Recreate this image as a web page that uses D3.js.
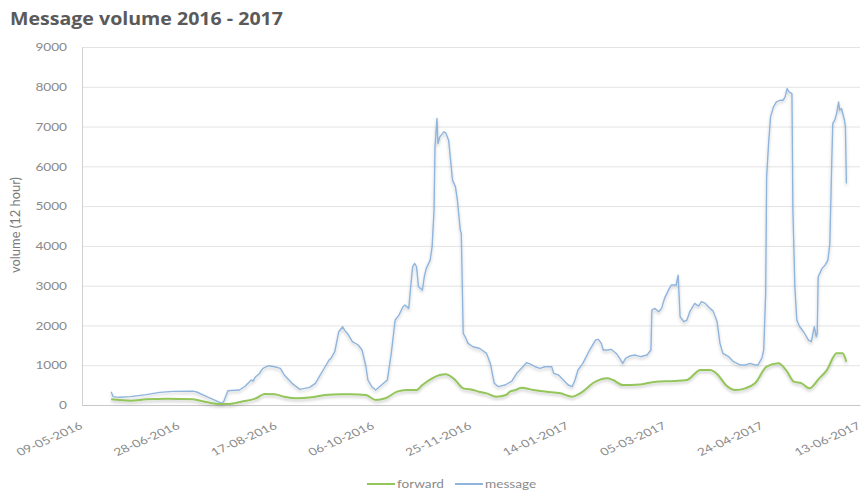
<!DOCTYPE html>
<html>
<head>
<meta charset="utf-8">
<script src="https://cdn.jsdelivr.net/npm/d3@7"></script>
<style>
  html, body { margin: 0; padding: 0; background: #ffffff; }
  svg { display: block; }
  text { font-family: Lato, "Open Sans", sans-serif; }
</style>
</head>
<body>
<svg id="chart" width="867" height="493"></svg>
<script>
// ---------- data ----------
const chartTitle = "Message volume 2016 - 2017";
const yAxisTitle = "volume (12 hour)";
const seriesNames = ["forward", "message"];
const yTickValues = [0, 1000, 2000, 3000, 4000, 5000, 6000, 7000, 8000, 9000];
const xTickLabels = ["09-05-2016", "28-06-2016", "17-08-2016", "06-10-2016", "25-11-2016",
                     "14-01-2017", "05-03-2017", "24-04-2017", "13-06-2017"];

const messageDates = [
  "2016-05-24","2016-05-25","2016-05-28","2016-06-03","2016-06-11","2016-06-18","2016-06-25",
  "2016-07-05","2016-07-07","2016-07-13","2016-07-20","2016-07-21","2016-07-23","2016-07-29",
  "2016-08-01","2016-08-04","2016-08-05","2016-08-06","2016-08-08","2016-08-10","2016-08-13",
  "2016-08-16","2016-08-19","2016-08-21","2016-08-25","2016-08-29","2016-09-03","2016-09-06",
  "2016-09-08","2016-09-11","2016-09-13","2016-09-14","2016-09-16","2016-09-18","2016-09-20",
  "2016-09-21","2016-09-23","2016-09-25","2016-09-28","2016-09-30","2016-10-02","2016-10-03",
  "2016-10-05","2016-10-07","2016-10-10","2016-10-13","2016-10-15","2016-10-17","2016-10-19",
  "2016-10-21","2016-10-22","2016-10-24","2016-10-25","2016-10-26","2016-10-27","2016-10-28",
  "2016-10-29","2016-10-31","2016-11-01","2016-11-02","2016-11-04","2016-11-05","2016-11-06",
  "2016-11-06 12","2016-11-07 12","2016-11-08","2016-11-09","2016-11-11","2016-11-12",
  "2016-11-13 12","2016-11-14 12","2016-11-15 12","2016-11-17","2016-11-18","2016-11-19 12",
  "2016-11-20","2016-11-21","2016-11-22","2016-11-23 12","2016-11-26","2016-11-29 12",
  "2016-12-03","2016-12-05","2016-12-07","2016-12-09","2016-12-12 12","2016-12-16",
  "2016-12-18 12","2016-12-21","2016-12-23 12","2016-12-25","2016-12-28","2016-12-30 12",
  "2017-01-02","2017-01-05 12","2017-01-06 12","2017-01-09","2017-01-11 12","2017-01-14",
  "2017-01-16","2017-01-17 12","2017-01-19","2017-01-21 12","2017-01-25","2017-01-28",
  "2017-01-29 12","2017-01-31","2017-02-01","2017-02-03 12","2017-02-05","2017-02-08",
  "2017-02-09 12","2017-02-11","2017-02-12 12","2017-02-14 12","2017-02-17 12","2017-02-20",
  "2017-02-23 12","2017-02-25 12","2017-02-26","2017-02-27 12","2017-03-01 12","2017-03-03",
  "2017-03-04 12","2017-03-06 12","2017-03-08","2017-03-10 12","2017-03-11 12","2017-03-12 12",
  "2017-03-14 12","2017-03-16","2017-03-17 12","2017-03-20","2017-03-22","2017-03-23 12",
  "2017-03-25 12","2017-03-27","2017-03-29 12","2017-03-31 12","2017-04-02","2017-04-03 12",
  "2017-04-06 12","2017-04-09","2017-04-12 12","2017-04-15","2017-04-17 12","2017-04-20",
  "2017-04-21 12","2017-04-23 12","2017-04-24 12","2017-04-25 12","2017-04-26","2017-04-27",
  "2017-04-28","2017-04-29 12","2017-05-01","2017-05-03","2017-05-04 12","2017-05-05 12",
  "2017-05-06 12","2017-05-07 12","2017-05-09","2017-05-09 12","2017-05-10 12","2017-05-11 12",
  "2017-05-13","2017-05-15","2017-05-17 12","2017-05-19","2017-05-20 12","2017-05-21 12",
  "2017-05-22","2017-05-22 12","2017-05-24 12","2017-05-26","2017-05-27 12","2017-05-28 12",
  "2017-05-29 12","2017-05-30","2017-05-31","2017-06-01","2017-06-02","2017-06-02 12",
  "2017-06-03 12","2017-06-05","2017-06-05 12","2017-06-06"
];
const messageValues = [
  334,210,193,210,260,318,343,
  350,327,193,42,100,360,377,
  477,628,600,696,779,922,988,
  962,922,754,545,394,444,545,
  712,962,1130,1172,1350,1842,1968,
  1884,1759,1591,1508,1382,962,628,
  461,377,503,628,1298,2136,2261,
  2470,2513,2429,2972,3475,3560,3475,
  2972,2889,3224,3434,3643,3977,4899,
  6490,7203,6575,6742,6868,6842,
  6658,6156,5653,5485,5151,4397,
  4314,1801,1716,1550,1465,1420,
  1298,1030,545,461,503,600,
  796,922,1064,1040,962,922,
  962,962,796,754,628,503,
  461,628,879,1047,1382,1633,
  1650,1550,1382,1382,1400,1281,
  1172,1047,1172,1231,1256,1214,
  1256,1382,2387,2429,2345,2429,
  2680,2889,3015,3015,3266,2219,
  2094,2136,2345,2555,2487,2597,
  2555,2470,2360,2100,1550,1298,
  1214,1088,1005,1005,1047,1005,
  1005,1172,1382,2806,5736,6575,
  7244,7495,7621,7663,7663,7746,
  7955,7872,7830,4899,2972,2136,
  1968,1842,1633,1591,1968,1716,
  1801,3224,3434,3517,3643,4063,
  6156,7078,7160,7328,7621,7412,
  7454,7160,6993,5570
];

const forwardDates = [
  "2016-05-24","2016-06-03","2016-06-11","2016-06-22","2016-07-05","2016-07-11","2016-07-18",
  "2016-07-23","2016-07-30","2016-08-06","2016-08-11","2016-08-16","2016-08-21","2016-08-28",
  "2016-09-04","2016-09-11","2016-09-19","2016-09-24","2016-10-02","2016-10-07","2016-10-12",
  "2016-10-18","2016-10-23","2016-10-28","2016-10-31","2016-11-05","2016-11-09","2016-11-12",
  "2016-11-16","2016-11-21","2016-11-26","2016-11-29","2016-12-03","2016-12-08","2016-12-13",
  "2016-12-15","2016-12-18","2016-12-21","2016-12-23","2016-12-27","2017-01-03","2017-01-10",
  "2017-01-16","2017-01-20","2017-01-28","2017-02-03","2017-02-06","2017-02-11","2017-02-20",
  "2017-02-28","2017-03-10","2017-03-16","2017-03-23","2017-03-28","2017-03-30","2017-04-01",
  "2017-04-05","2017-04-10","2017-04-15","2017-04-20","2017-04-26","2017-05-02","2017-05-06",
  "2017-05-10","2017-05-14","2017-05-18","2017-05-23","2017-05-27","2017-06-01","2017-06-04",
  "2017-06-06"
];
const forwardValues = [
  143,109,143,160,143,84,25,
  25,84,160,276,268,210,168,
  193,251,268,268,251,126,168,
  335,377,377,503,670,754,771,
  670,419,377,335,293,210,251,
  335,377,436,419,377,335,293,
  210,293,586,670,628,503,518,
  586,603,628,879,880,837,754,
  503,377,419,545,962,1047,879,
  586,545,419,670,879,1298,1298,
  1088
];

// ---------- layout ----------
const W = 867, H = 493;
const plot = { left: 82, right: 860, top: 47, bottom: 405 };
const SX = 1.3; // horizontal stretch of the text seen in the reference
const colors = { forward: "#93c55a", message: "#8fb5dd" };

const parseDay = d3.utcParse("%Y-%m-%d");
const parseHalf = d3.utcParse("%Y-%m-%d %H");
const parseDate = s => (s.length > 10 ? parseHalf(s) : parseDay(s));
const parseTick = d3.utcParse("%d-%m-%Y");
const fmtTick = d3.utcFormat("%d-%m-%Y");

const xTickDates = xTickLabels.map(parseTick);
const messageData = messageDates.map((d, i) => ({ date: parseDate(d), value: messageValues[i] }));
const forwardData = forwardDates.map((d, i) => ({ date: parseDate(d), value: forwardValues[i] }));

const x = d3.scaleUtc()
  .domain([xTickDates[0], xTickDates[xTickDates.length - 1]])
  .range([plot.left, plot.right]);
const y = d3.scaleLinear()
  .domain([0, yTickValues[yTickValues.length - 1]])
  .range([plot.bottom, plot.top]);

const svg = d3.select("#chart");
svg.append("rect").attr("width", W).attr("height", H).attr("fill", "#ffffff");

const defs = svg.append("defs");
const f = defs.append("filter").attr("id", "shadow")
  .attr("x", "-5%").attr("y", "-20%").attr("width", "110%").attr("height", "140%");
f.append("feDropShadow").attr("dx", 0).attr("dy", 2).attr("stdDeviation", 1.4)
  .attr("flood-color", "#000").attr("flood-opacity", 0.22);

// title
svg.append("text")
  .attr("x", 10).attr("y", 25)
  .attr("textLength", 273).attr("lengthAdjust", "spacingAndGlyphs")
  .style("font-family", "'Open Sans', sans-serif")
  .style("font-weight", 700).style("font-size", "18.5px")
  .attr("fill", "#5a5a5a")
  .text(chartTitle);

// gridlines
svg.append("g")
  .attr("transform", `translate(${plot.left},0)`)
  .call(d3.axisLeft(y).tickValues(yTickValues).tickSize(-(plot.right - plot.left)).tickFormat(""))
  .call(g => g.select(".domain").remove())
  .call(g => g.selectAll("line").attr("stroke", "#e3e3e3").attr("stroke-width", 1));

// y axis
const yAxis = svg.append("g")
  .attr("transform", `translate(${plot.left},0)`)
  .call(d3.axisLeft(y).tickValues(yTickValues).tickSize(0).tickPadding(0).tickFormat(d3.format("d")));
yAxis.select(".domain").attr("stroke", "#d0d0d0");
yAxis.selectAll("text")
  .attr("x", 0).attr("dy", "0.35em")
  .attr("transform", `translate(-15,0) scale(${SX},1)`)
  .attr("text-anchor", "end")
  .style("font-family", "Lato, sans-serif").style("font-size", "10.5px")
  .attr("fill", "#8a8a8a");

// x axis
const xAxis = svg.append("g")
  .attr("transform", `translate(0,${plot.bottom})`)
  .call(d3.axisBottom(x).tickValues(xTickDates).tickSize(0).tickFormat(fmtTick));
xAxis.select(".domain").attr("stroke", "#c8c8c8");
xAxis.selectAll("text")
  .attr("x", 0).attr("y", 0).attr("dy", 0)
  .attr("text-anchor", "end")
  .attr("transform", `translate(1,23) scale(${SX},1) rotate(-30)`)
  .style("font-family", "Lato, sans-serif").style("font-size", "10.5px")
  .attr("fill", "#8a8a8a");

// y axis title
svg.append("text")
  .attr("transform", `translate(20,225) scale(${SX},1) rotate(-90)`)
  .attr("text-anchor", "middle")
  .attr("textLength", 96).attr("lengthAdjust", "spacingAndGlyphs")
  .style("font-family", "Lato, sans-serif").style("font-size", "11px")
  .attr("fill", "#7a7a7a")
  .text(yAxisTitle);

// lines
const line = d3.line().x(d => x(d.date)).y(d => y(d.value));
svg.append("path").datum(messageData)
  .attr("fill", "none").attr("stroke", colors.message).attr("stroke-width", 1.4)
  .attr("stroke-linejoin", "round")
  .attr("filter", "url(#shadow)")
  .attr("d", line.curve(d3.curveLinear));
svg.append("path").datum(forwardData)
  .attr("fill", "none").attr("stroke", colors.forward).attr("stroke-width", 2)
  .attr("stroke-linejoin", "round")
  .attr("filter", "url(#shadow)")
  .attr("d", d3.line().x(d => x(d.date)).y(d => y(d.value)).curve(d3.curveMonotoneX));

// legend
const legendItems = [
  { name: seriesNames[0], color: colors.forward, x: 367 },
  { name: seriesNames[1], color: colors.message, x: 455 }
];
const lg = svg.append("g");
legendItems.forEach(it => {
  lg.append("line")
    .attr("x1", it.x).attr("x2", it.x + 28).attr("y1", 484).attr("y2", 484)
    .attr("stroke", it.color).attr("stroke-width", 2);
  lg.append("text")
    .attr("transform", `translate(${it.x + 30},488) scale(${SX},1)`)
    .style("font-family", "Lato, sans-serif").style("font-size", "10.5px")
    .attr("fill", "#8a8a8a")
    .text(it.name);
});
</script>
</body>
</html>
